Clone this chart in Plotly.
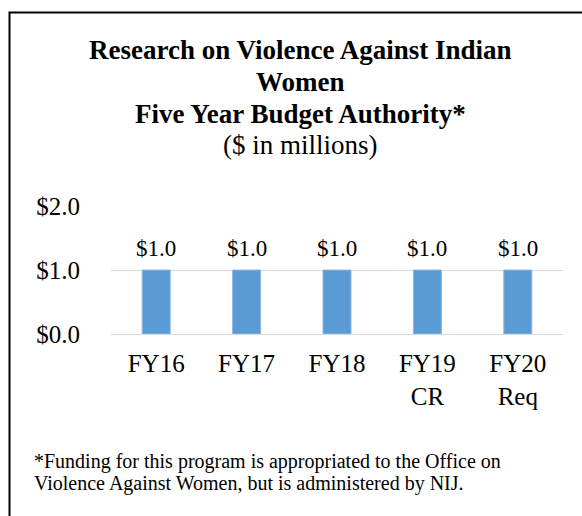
import plotly.graph_objects as go

# Five-year budget authority for the program ($ in millions)
categories = ["FY16", "FY17", "FY18", "FY19<br>CR", "FY20<br>Req"]
budget = [1.0, 1.0, 1.0, 1.0, 1.0]
y_ticks = [0.0, 1.0, 2.0]
y_tick_labels = ["$0.0", "$1.0", "$2.0"]

SERIF = "Liberation Serif, Times New Roman, serif"
BAR_COLOR = "#5B9BD5"

W, H = 582, 516
L, R, T, B = 111, 19, 206, 182


def px_to_paper_x(px):
    return (px - L) / (W - L - R)


def px_to_paper_y(py):
    return (H - B - py) / (H - T - B)


fig = go.Figure(
    go.Bar(
        x=categories,
        y=budget,
        width=0.31,
        marker=dict(color=BAR_COLOR, line=dict(color="#8DB8E3", width=1)),
        hoverinfo="skip",
    )
)

# Value labels above each bar
annotations = [
    dict(
        x=c, y=v, xref="x", yref="y",
        text=f"${v:.1f}", showarrow=False,
        yanchor="bottom", yshift=7,
        font=dict(family=SERIF, size=23, color="black"),
    )
    for c, v in zip(categories, budget)
]

# Title block
title_lines = [
    ("<b>Research on Violence Against Indian</b>", 50),
    ("<b>Women</b>", 82),
    ("<b>Five Year Budget Authority*</b>", 114),
    ("($ in millions)", 145),
]
for text, py in title_lines:
    annotations.append(dict(
        x=px_to_paper_x(300), y=px_to_paper_y(py), xref="paper", yref="paper",
        text=text, showarrow=False, xanchor="center", yanchor="middle",
        font=dict(family=SERIF, size=27, color="black"),
    ))

# Footnote
footnote = [
    ("*Funding for this program is appropriated to the Office on", 461),
    ("Violence Against Women, but is administered by NIJ.", 483),
]
for text, py in footnote:
    annotations.append(dict(
        x=px_to_paper_x(32), y=px_to_paper_y(py), xref="paper", yref="paper",
        text=text, showarrow=False, xanchor="left", yanchor="middle",
        font=dict(family=SERIF, size=20, color="black"),
    ))

# Frame around the exhibit (top and left edges fall inside the page)
frame = dict(
    type="path",
    xref="paper", yref="paper",
    path=(f"M {px_to_paper_x(9.5)} {px_to_paper_y(H + 20)} "
          f"L {px_to_paper_x(9.5)} {px_to_paper_y(12.5)} "
          f"L {px_to_paper_x(W + 20)} {px_to_paper_y(12.5)}"),
    line=dict(color="black", width=2),
)

fig.update_layout(
    width=W, height=H,
    margin=dict(l=L, r=R, t=T, b=B),
    paper_bgcolor="white",
    plot_bgcolor="white",
    showlegend=False,
    annotations=annotations,
    shapes=[frame],
    font=dict(family=SERIF, color="black"),
    xaxis=dict(
        showgrid=False, showline=False, ticks="",
        tickfont=dict(family=SERIF, size=25, color="black"),
        ticklabelstandoff=12,
        fixedrange=True,
    ),
    yaxis=dict(
        range=[0, 2],
        tickvals=y_ticks, ticktext=y_tick_labels,
        showgrid=True, gridcolor="#D9D9D9", gridwidth=1,
        zeroline=True, zerolinecolor="#D9D9D9", zerolinewidth=1,
        showline=False, ticks="",
        ticklabelstandoff=30,
        tickfont=dict(family=SERIF, size=25, color="black"),
        fixedrange=True,
    ),
)

fig.write_html("out.html")
